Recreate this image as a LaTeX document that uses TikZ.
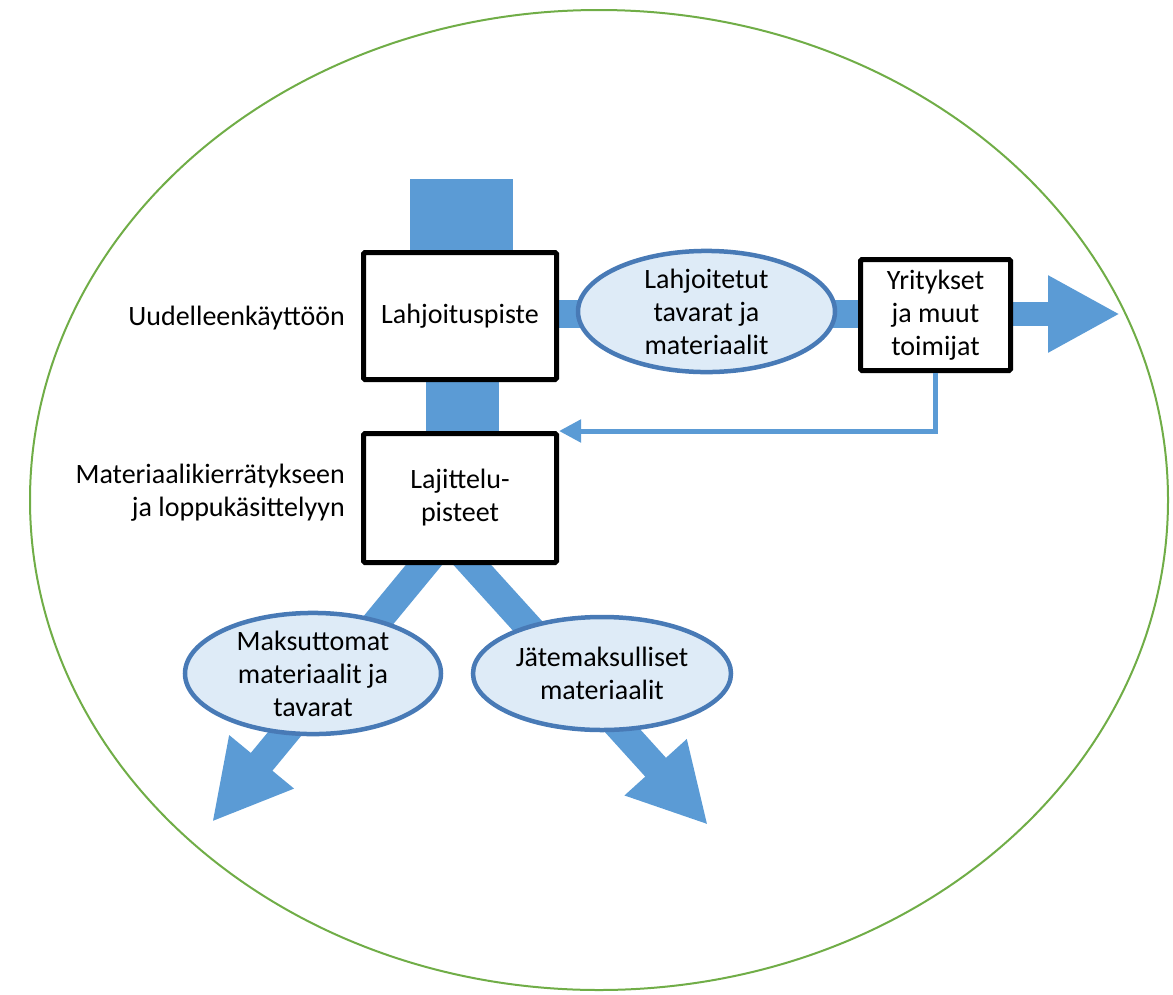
\documentclass[tikz,border=0pt]{standalone}
\usepackage{fontspec}
\setmainfont{Carlito}
\usetikzlibrary{arrows.meta,shapes.geometric,backgrounds,calc}
\definecolor{flowblue}{RGB}{91,155,213}
\definecolor{ovalfill}{RGB}{222,235,247}
\definecolor{ovalline}{RGB}{72,122,182}
\definecolor{ringgreen}{RGB}{112,173,71}
\tikzset{
  txt/.style={font=\fontsize{28pt}{33pt}\selectfont, align=center, inner sep=0pt},
  stepbox/.style={txt, draw=black, fill=white, line width=5pt, rounded corners=1.5pt},
  oval/.style={txt, ellipse, draw=ovalline, fill=ovalfill, line width=4.5pt, inner sep=0pt},
  flow/.style={draw=flowblue, line cap=butt},
  thinflow/.style={draw=flowblue, line width=5pt, -{Triangle[length=22pt,width=22pt]}},
}
\begin{document}
\begin{tikzpicture}[x=1pt,y=-1pt]
\useasboundingbox (0,0) rectangle (1173,994);
% outer ring
\draw[ringgreen, line width=2pt] (599,500) ellipse [x radius=569, y radius=490];

% nodes
\node[stepbox, minimum width=193pt, minimum height=127pt] (lahj) at (460,316) {Lahjoituspiste};
\node[stepbox, minimum width=193pt, minimum height=129pt] (laj) at (460,498) {Lajittelu-\\pisteet};
\node[stepbox, minimum width=150pt, minimum height=111pt] (yrit) at (935.5,315) {Yritykset\\ja muut\\toimijat};
\node[oval, minimum width=257pt, minimum height=113pt] (lahjtav) at (706.5,311.5) {Lahjoitetut\\tavarat ja\\materiaalit};
\node[oval, minimum width=256pt, minimum height=113pt] (maks) at (313,673.5) {Maksuttomat\\materiaalit ja\\tavarat};
\node[oval, minimum width=258pt, minimum height=113pt] (jate) at (602,673.5) {Jätemaksulliset\\materiaalit};

\node[txt, anchor=east] (uud) at (345,318) {Uudelleenkäyttöön};
\node[txt, anchor=east, align=right] (mat) at (345,493) {Materiaalikierrätykseen\\ja loppukäsittelyyn};

\coordinate (topin) at (461.5,179);
\coordinate (split) at (447,537);
\coordinate (tipR) at (1120,314);
\coordinate (tipL) at (212,822);
\coordinate (tipD) at (708,825);

\begin{pgfonlayer}{background}
  \draw[flow, line width=103pt] (topin) -- (topin |- lahj.north);
  \draw[flow, line width=73pt] ([xshift=2.5pt]lahj.south) -- ([xshift=2.5pt]laj.north);
  \draw[flow, line width=28pt] (lahj.east |- 0,314) -- (yrit.west |- 0,314);
  \draw[flow, line width=24pt, -{Triangle[length=72pt,width=72pt]}] (yrit.east |- tipR) -- (tipR);
  \draw[flow, line width=28pt, -{Triangle[length=78pt,width=78pt]}] (split) -- (tipL);
  \draw[flow, line width=28pt, -{Triangle[length=78pt,width=78pt]}] (split) -- (tipD);
\end{pgfonlayer}

\draw[thinflow] (yrit.south) |- (laj.north east);
\end{tikzpicture}
\end{document}
